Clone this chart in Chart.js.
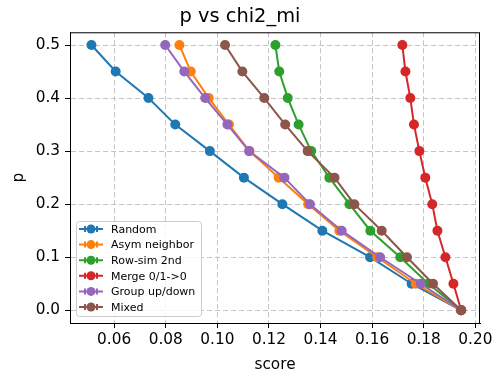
<!DOCTYPE html>
<html>
<head>
<meta charset="utf-8">
<script src="https://cdn.jsdelivr.net/npm/chart.js@4"></script>
<style>
  body { margin: 0; background: #fff; }
  canvas { display: block; }
</style>
</head>
<body>
<canvas id="mycanvas" width="503" height="383"></canvas>
<script>
// p levels (y) and score per method (x)
const pVals  = [0.5, 0.45, 0.4, 0.35, 0.3, 0.25, 0.2, 0.15, 0.1, 0.05, 0.0];
const random = [0.0512, 0.0606, 0.0733, 0.0837, 0.0971, 0.1103, 0.1252, 0.1407, 0.1592, 0.1753, 0.1945];
const asym   = [0.0853, 0.0897, 0.0967, 0.1045, 0.1125, 0.1238, 0.1352, 0.1473, 0.1620, 0.1769, 0.1945];
const rowSim = [0.1225, 0.1240, 0.1273, 0.1315, 0.1364, 0.1434, 0.1512, 0.1593, 0.1709, 0.1818, 0.1945];
const merge  = [0.1717, 0.1729, 0.1748, 0.1762, 0.1783, 0.1806, 0.1833, 0.1853, 0.1884, 0.1915, 0.1945];
const group  = [0.0798, 0.0872, 0.0953, 0.1039, 0.1123, 0.1260, 0.1359, 0.1482, 0.1631, 0.1788, 0.1945];
const mixed  = [0.1030, 0.1097, 0.1182, 0.1263, 0.1350, 0.1454, 0.1531, 0.1637, 0.1735, 0.1836, 0.1945];

const names  = ['Random', 'Asym neighbor', 'Row-sim 2nd', 'Merge 0/1->0', 'Group up/down', 'Mixed'];
const series = [random, asym, rowSim, merge, group, mixed];
const colors = ['#1f77b4', '#ff7f0e', '#2ca02c', '#d62728', '#9467bd', '#8c564b'];

const xTicks = [0.06, 0.08, 0.10, 0.12, 0.14, 0.16, 0.18, 0.20];
const yTicks = [0.0, 0.1, 0.2, 0.3, 0.4, 0.5];

const FONT = 'DejaVu Sans';

const datasets = series.map((s, i) => ({
  label: names[i],
  data: s.map((x, j) => ({x: x, y: pVals[j]})),
  showLine: true,
  borderColor: colors[i],
  backgroundColor: colors[i],
  borderWidth: 2,
  pointRadius: 5,
  pointBorderWidth: 0,
  pointHoverRadius: 5,
  order: series.length - i   // later series drawn on top, like matplotlib
}));

// frame + inside legend
const extras = {
  id: 'extras',
  afterDraw(chart) {
    const ctx = chart.ctx;
    const a = chart.chartArea;
    ctx.save();
    ctx.strokeStyle = '#000';
    ctx.lineWidth = 1;
    ctx.strokeRect(a.left + 0.5, a.top + 0.5, a.right - a.left - 1, a.bottom - a.top);

    // legend box
    const bx = 76, by = 221, bw = 125, bh = 95;
    ctx.beginPath();
    ctx.roundRect(bx + 0.5, by + 0.5, bw, bh, 3);
    ctx.fillStyle = 'rgba(255,255,255,0.8)';
    ctx.fill();
    ctx.strokeStyle = '#cccccc';
    ctx.stroke();

    ctx.font = '11px "' + FONT + '"';
    ctx.textBaseline = 'middle';
    names.forEach((n, i) => {
      const y = 229 + i * 15.6;
      ctx.strokeStyle = colors[i];
      ctx.fillStyle = colors[i];
      ctx.lineWidth = 2;
      ctx.beginPath();
      ctx.moveTo(79, y); ctx.lineTo(103, y);
      ctx.moveTo(85, y - 3); ctx.lineTo(85, y + 3);
      ctx.moveTo(97, y - 3); ctx.lineTo(97, y + 3);
      ctx.stroke();
      ctx.beginPath();
      ctx.arc(91, y, 4.5, 0, Math.PI * 2);
      ctx.fill();
      ctx.fillStyle = '#000';
      ctx.fillText(n, 111, y + 1);
    });
    ctx.restore();
  }
};

const config = {
  type: 'scatter',
  data: {datasets},
  options: {
    responsive: false,
    devicePixelRatio: 1,
    animation: false,
    layout: {padding: {top: 0, right: 23, bottom: 0, left: 0}},
    plugins: {
      legend: {display: false},
      tooltip: {enabled: false},
      title: {
        display: true,
        text: 'p vs chi2_mi',
        color: '#000',
        font: {family: FONT, size: 19.4, weight: 'normal'},
        padding: {top: 5, bottom: 4}
      }
    },
    scales: {
      x: {
        type: 'linear',
        min: 0.0429,
        max: 0.2018,
        afterBuildTicks: s => { s.ticks = xTicks.map(v => ({value: v})); },
        afterFit: s => { s.height = 60; },
        ticks: {
          color: '#000',
          font: {family: FONT, size: 15.3},
          padding: 3,
          maxRotation: 0,
          callback: v => v.toFixed(2)
        },
        grid: {color: '#c4c4c4', tickColor: '#000', tickLength: 5, lineWidth: 1},
        border: {display: true, color: '#000', dash: [5, 3]},
        title: {
          display: true, text: 'score', color: '#000',
          font: {family: FONT, size: 15.3}, padding: {top: 0, bottom: 9}
        }
      },
      y: {
        type: 'linear',
        min: -0.024,
        max: 0.524,
        afterBuildTicks: s => { s.ticks = yTicks.map(v => ({value: v})); },
        afterFit: s => { s.width = 70; },
        ticks: {
          color: '#000',
          font: {family: FONT, size: 15.3},
          padding: 5,
          callback: v => v.toFixed(1)
        },
        grid: {color: '#c4c4c4', tickColor: '#000', tickLength: 5, lineWidth: 1},
        border: {display: true, color: '#000', dash: [5, 3]},
        title: {
          display: true, text: 'p', color: '#000',
          font: {family: FONT, size: 15.3}, padding: {top: 10, bottom: 0}
        }
      }
    }
  },
  plugins: [extras]
};

const myChart = new Chart(document.getElementById('mycanvas'), config);
</script>
</body>
</html>
